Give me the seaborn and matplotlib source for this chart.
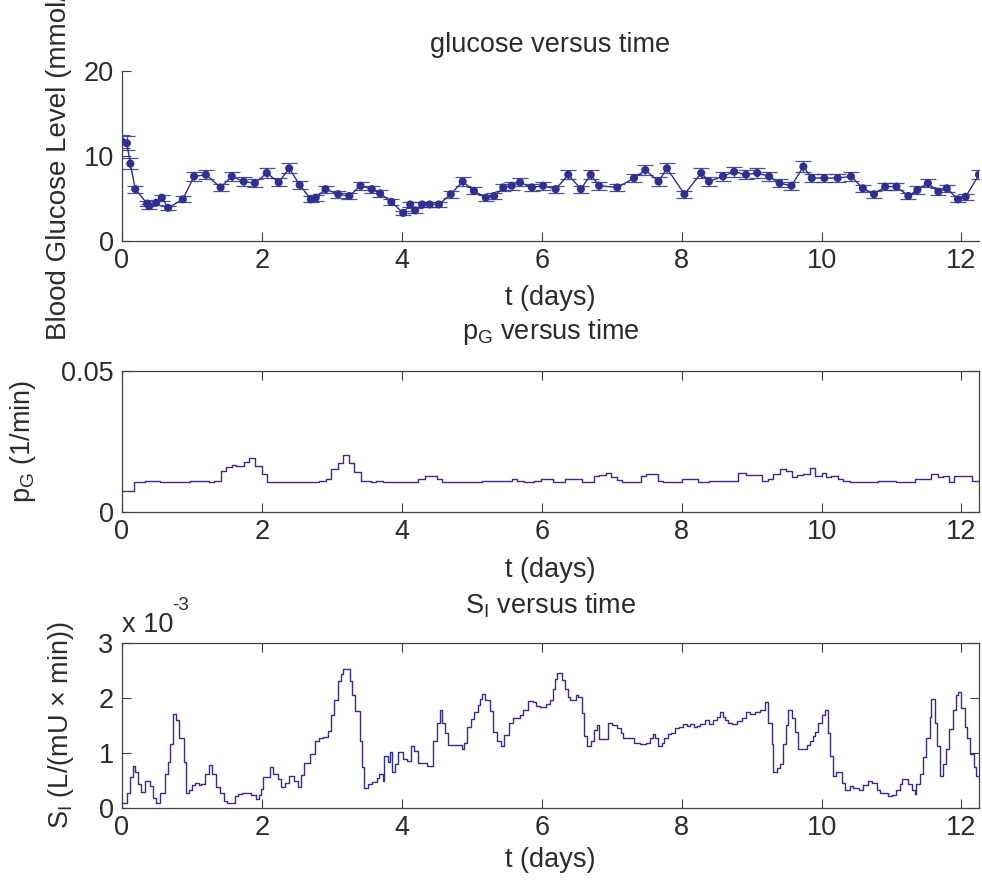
import matplotlib
matplotlib.use("Agg")
import matplotlib.pyplot as plt
import pandas as pd
import seaborn as sns

# --- glucose measurements (mmol/L) ---
glucose_days = [0.0, 0.07, 0.12, 0.19, 0.36, 0.39, 0.49, 0.57, 0.66, 0.87,
                1.03, 1.2, 1.41, 1.57, 1.74, 1.9, 2.07, 2.24, 2.39, 2.54,
                2.7, 2.77, 2.91, 3.09, 3.25, 3.41, 3.57, 3.69, 3.85, 4.02,
                4.12, 4.19, 4.29, 4.4, 4.53, 4.7, 4.87, 5.03, 5.2, 5.32,
                5.45, 5.57, 5.69, 5.86, 6.02, 6.2, 6.38, 6.56, 6.7, 6.82,
                7.08, 7.32, 7.48, 7.67, 7.79, 8.04, 8.28, 8.39, 8.59, 8.75,
                8.92, 9.08, 9.25, 9.4, 9.57, 9.74, 9.86, 10.04, 10.23, 10.42,
                10.59, 10.75, 10.91, 11.07, 11.24, 11.37, 11.52, 11.67, 11.79, 11.95,
                12.06, 12.25]
glucose = [11.7, 11.5, 9.1, 6.1, 4.4, 4.1, 4.5, 5.1, 3.9, 4.9,
           7.6, 7.8, 6.3, 7.6, 7.0, 6.8, 8.0, 6.9, 8.55, 6.6,
           4.9, 5.1, 6.1, 5.5, 5.3, 6.5, 6.1, 5.6, 4.6, 3.3,
           4.3, 3.6, 4.3, 4.3, 4.3, 5.5, 7.0, 5.9, 5.1, 5.3,
           6.3, 6.5, 6.9, 6.3, 6.5, 6.1, 7.8, 6.1, 7.8, 6.5,
           6.3, 7.4, 8.35, 7.0, 8.55, 5.5, 8.0, 7.0, 7.6, 8.15,
           7.8, 8.0, 7.6, 6.8, 6.5, 8.75, 7.4, 7.4, 7.4, 7.6,
           6.2, 5.5, 6.4, 6.4, 5.3, 6.0, 6.8, 5.8, 6.2, 4.9,
           5.2, 7.8]
GLUCOSE_REL_ERR = 0.07  # meter error, relative

# --- pG (1/min), piecewise constant: start of each step ---
pg_start = [0.0, 0.166, 0.333, 0.547, 0.976, 1.238, 1.31, 1.419, 1.486, 1.58,
            1.629, 1.747, 1.823, 1.905, 2.0, 2.071, 2.81, 2.914, 2.99, 3.085,
            3.157, 3.248, 3.319, 3.414, 3.562, 3.633, 3.729, 4.229, 4.333, 4.5,
            4.57, 5.14, 5.57, 5.64, 5.74, 5.89, 5.99, 6.166, 6.333, 6.571,
            6.747, 6.823, 6.914, 6.986, 7.08, 7.143, 7.414, 7.49, 7.666, 7.737,
            8.0, 8.238, 8.395, 8.81, 8.914, 9.143, 9.229, 9.309, 9.404, 9.49,
            9.571, 9.643, 9.738, 9.833, 9.904, 10.0, 10.07, 10.14, 10.23, 10.31,
            10.40, 10.81, 11.07, 11.33, 11.57, 11.67, 11.74, 11.82, 11.89, 12.157]
pg_vals = [0.0076, 0.0105, 0.0111, 0.0105, 0.0111, 0.0105, 0.0111, 0.0146, 0.0158, 0.0168,
           0.0164, 0.0176, 0.0191, 0.0164, 0.0135, 0.0105, 0.0111, 0.0117, 0.0152, 0.0174,
           0.0203, 0.0174, 0.0140, 0.0111, 0.0105, 0.0111, 0.0105, 0.0117, 0.0129, 0.0117,
           0.0105, 0.0111, 0.0117, 0.0111, 0.0105, 0.0111, 0.0117, 0.0105, 0.0117, 0.0105,
           0.0126, 0.0130, 0.0138, 0.0124, 0.0112, 0.0105, 0.0126, 0.0134, 0.0111, 0.0105,
           0.0117, 0.0105, 0.0111, 0.0138, 0.0132, 0.0111, 0.0117, 0.0134, 0.0152, 0.0146,
           0.0123, 0.0132, 0.0134, 0.0155, 0.0126, 0.0138, 0.0123, 0.0126, 0.0117, 0.0111,
           0.0105, 0.0111, 0.0105, 0.0117, 0.0134, 0.0123, 0.0129, 0.0105, 0.0129, 0.0111]
PG_END = 12.26

# --- SI (x 1e-3 L/(mU min)), piecewise constant ---
si_start = [0.0, 0.071, 0.119, 0.157, 0.19, 0.228, 0.276, 0.333, 0.395, 0.438,
            0.485, 0.547, 0.609, 0.657, 0.69, 0.728, 0.776, 0.819, 0.88, 0.919,
            0.952, 1.0, 1.047, 1.095, 1.133, 1.19, 1.247, 1.285, 1.347, 1.404,
            1.452, 1.5, 1.609, 1.657, 1.714, 1.785, 1.847, 1.914, 1.952, 1.99,
            2.023, 2.109, 2.152, 2.228, 2.276, 2.333, 2.39, 2.466, 2.514, 2.561,
            2.609, 2.69, 2.761, 2.819, 2.88, 2.942, 2.99, 3.038, 3.085, 3.133,
            3.166, 3.261, 3.295, 3.333, 3.404, 3.428, 3.466, 3.523, 3.58, 3.642,
            3.68, 3.738, 3.752, 3.8, 3.833, 3.857, 3.904, 3.952, 4.023, 4.071,
            4.133, 4.18, 4.238, 4.357, 4.452, 4.509, 4.547, 4.571, 4.619, 4.666,
            4.857, 4.895, 4.938, 4.99, 5.038, 5.085, 5.119, 5.152, 5.19, 5.261,
            5.309, 5.356, 5.418, 5.466, 5.533, 5.595, 5.69, 5.738, 5.8, 5.88,
            5.914, 5.976, 6.061, 6.119, 6.157, 6.19, 6.224, 6.285, 6.333, 6.371,
            6.405, 6.49, 6.524, 6.571, 6.605, 6.643, 6.7, 6.752, 6.786, 6.824,
            6.943, 7.0, 7.081, 7.128, 7.157, 7.319, 7.405, 7.49, 7.547, 7.586,
            7.619, 7.667, 7.714, 7.748, 7.809, 7.843, 7.905, 7.967, 8.024, 8.071,
            8.119, 8.176, 8.214, 8.262, 8.333, 8.395, 8.452, 8.5, 8.547, 8.586,
            8.619, 8.667, 8.714, 8.786, 8.857, 8.919, 8.976, 9.047, 9.119, 9.19,
            9.238, 9.286, 9.309, 9.366, 9.405, 9.452, 9.49, 9.524, 9.571, 9.619,
            9.667, 9.786, 9.833, 9.871, 9.905, 9.952, 10.0, 10.048, 10.095, 10.119,
            10.167, 10.205, 10.286, 10.333, 10.405, 10.452, 10.538, 10.595, 10.667, 10.728,
            10.786, 10.833, 10.952, 11.0, 11.071, 11.119, 11.157, 11.238, 11.286, 11.333,
            11.357, 11.405, 11.452, 11.5, 11.548, 11.571, 11.619, 11.652, 11.69, 11.738,
            11.776, 11.824, 11.881, 11.919, 11.952, 12.0, 12.048, 12.081, 12.129, 12.176,
            12.214]
si_vals = [0.10, 0.28, 0.57, 0.77, 0.66, 0.44, 0.29, 0.50, 0.40, 0.18,
           0.09, 0.28, 0.61, 0.83, 1.16, 1.71, 1.60, 1.27, 0.84, 0.27,
           0.32, 0.41, 0.45, 0.41, 0.44, 0.61, 0.78, 0.62, 0.38, 0.28,
           0.13, 0.09, 0.21, 0.25, 0.27, 0.28, 0.24, 0.17, 0.24, 0.34,
           0.57, 0.74, 0.61, 0.52, 0.39, 0.45, 0.58, 0.49, 0.39, 0.60,
           0.81, 0.98, 1.21, 1.27, 1.29, 1.40, 1.69, 1.96, 2.31, 2.43,
           2.52, 2.31, 2.05, 1.77, 1.21, 0.74, 0.36, 0.43, 0.48, 0.54,
           0.61, 0.50, 0.95, 0.84, 1.01, 0.66, 0.80, 1.01, 0.89, 0.86,
           1.12, 1.04, 0.81, 0.77, 1.21, 1.54, 1.78, 1.54, 1.36, 1.15,
           1.07, 1.19, 1.47, 1.62, 1.75, 1.87, 1.99, 2.08, 1.96, 1.77,
           1.39, 1.22, 1.13, 1.33, 1.54, 1.63, 1.69, 1.79, 1.95, 1.93,
           1.85, 1.83, 1.90, 1.96, 2.17, 2.35, 2.45, 2.32, 2.17, 2.02,
           1.96, 2.05, 2.02, 1.72, 1.31, 1.13, 1.21, 1.42, 1.51, 1.25,
           1.54, 1.51, 1.46, 1.36, 1.28, 1.19, 1.16, 1.19, 1.27, 1.34,
           1.27, 1.13, 1.19, 1.27, 1.34, 1.36, 1.45, 1.48, 1.52, 1.49,
           1.53, 1.47, 1.49, 1.53, 1.60, 1.53, 1.60, 1.66, 1.75, 1.66,
           1.60, 1.54, 1.52, 1.58, 1.63, 1.75, 1.71, 1.75, 1.79, 1.93,
           1.54, 1.16, 0.65, 0.72, 0.80, 1.16, 1.51, 1.78, 1.63, 1.39,
           1.07, 1.15, 1.22, 1.31, 1.39, 1.54, 1.69, 1.78, 1.36, 0.94,
           0.58, 0.65, 0.46, 0.33, 0.40, 0.36, 0.32, 0.41, 0.49, 0.45,
           0.32, 0.27, 0.21, 0.23, 0.32, 0.43, 0.52, 0.44, 0.33, 0.26,
           0.44, 0.61, 0.92, 1.27, 1.66, 1.99, 1.54, 1.13, 0.58, 0.80,
           1.07, 1.43, 1.78, 2.05, 2.11, 1.81, 1.48, 1.27, 0.99, 0.75,
           0.58]
SI_END = 12.26

BLUE = "#2d3091"
TEXT = "#2b2b2b"
AXC = "#404040"
FS = 19.5

sns.set_style("ticks")
plt.rcParams.update({
    "font.family": ["Liberation Sans", "DejaVu Sans"],
    "font.size": FS,
    "axes.titlesize": FS,
    "axes.labelsize": FS,
    "mathtext.default": "regular",
    "text.color": TEXT,
    "axes.labelcolor": TEXT,
    "axes.edgecolor": AXC,
    "axes.linewidth": 0.9,
    "xtick.color": AXC,
    "ytick.color": AXC,
    "xtick.labelcolor": TEXT,
    "ytick.labelcolor": TEXT,
    "xtick.direction": "in",
    "ytick.direction": "in",
    "xtick.major.size": 6.5,
    "ytick.major.size": 6.5,
    "xtick.major.width": 0.8,
    "ytick.major.width": 0.8,
    "xtick.labelsize": FS,
    "ytick.labelsize": FS,
    "xtick.major.pad": 5,
    "ytick.major.pad": 6,
})

glu = pd.DataFrame({"t": glucose_days, "g": glucose})
glu["err"] = glu["g"] * GLUCOSE_REL_ERR
pg = pd.DataFrame({"t": pg_start + [PG_END], "v": pg_vals + [pg_vals[-1]]})
si = pd.DataFrame({"t": si_start + [SI_END], "v": si_vals + [si_vals[-1]]})

fig = plt.figure(figsize=(9.82, 8.85), dpi=100)
left, width = 0.1242, 0.8727
ax1 = fig.add_axes([left, 0.7277, width, 0.1921])
ax2 = fig.add_axes([left, 0.4215, width, 0.1593])
ax3 = fig.add_axes([left, 0.087, width, 0.1864])

# glucose
ax1.errorbar(glu["t"], glu["g"], yerr=glu["err"], fmt="none", ecolor=BLUE,
             elinewidth=0.9, capsize=5.8, capthick=0.9, alpha=0.85)
sns.lineplot(data=glu, x="t", y="g", ax=ax1, color=BLUE, linewidth=1.0,
             estimator=None, sort=False)
sns.scatterplot(data=glu, x="t", y="g", ax=ax1, color=BLUE, s=34,
                edgecolor="none", zorder=3)
ax1.set_ylim(0, 20)
ax1.set_yticks([0, 10, 20])
sns.despine(ax=ax1)
ax1.set_title("glucose versus time", y=1.112, pad=0)
# label runs off the top of the figure, as in the source chart
ax1.set_ylabel("Blood Glucose Level (mmol/L)", fontsize=20)
ax1.yaxis.set_label_coords(-0.058, 0.51)

# pG
sns.lineplot(data=pg, x="t", y="v", ax=ax2, color=BLUE, linewidth=1.0,
             drawstyle="steps-post", estimator=None, sort=False)
ax2.set_ylim(0, 0.05)
ax2.set_yticks([0, 0.05])
ax2.set_yticklabels(["0", "0.05"])
ax2.set_title("p$_G$ versus time", y=1.225, pad=0)
ax2.set_ylabel("p$_G$ (1/min)")
ax2.yaxis.set_label_coords(-0.098, 0.5)

# SI
sns.lineplot(data=si, x="t", y="v", ax=ax3, color=BLUE, linewidth=1.0,
             drawstyle="steps-post", estimator=None, sort=False)
ax3.set_ylim(0, 3)
ax3.set_yticks([0, 1, 2, 3])
ax3.set_title("S$_I$ versus time", y=1.18, pad=0)
ax3.set_ylabel("S$_I$ (L/(mU × min))")
ax3.yaxis.set_label_coords(-0.054, 0.5)
ax3.text(0.0, 1.067, "x 10", transform=ax3.transAxes,
         ha="left", va="baseline", fontsize=FS)
ax3.text(0.058, 1.2, "-3", transform=ax3.transAxes,
         ha="left", va="baseline", fontsize=13.5)

for ax, ly in [(ax1, -0.26), (ax2, -0.32), (ax3, -0.235)]:
    ax.set_xlim(0, 12.25)
    ax.set_xticks([0, 2, 4, 6, 8, 10, 12])
    ax.set_xlabel("t (days)")
    ax.xaxis.set_label_coords(0.5, ly)
    ax.xaxis.label.set_va("top")
for ax in (ax2, ax3):
    ax.tick_params(top=True, right=True)

fig.savefig("out.png", dpi=100)
